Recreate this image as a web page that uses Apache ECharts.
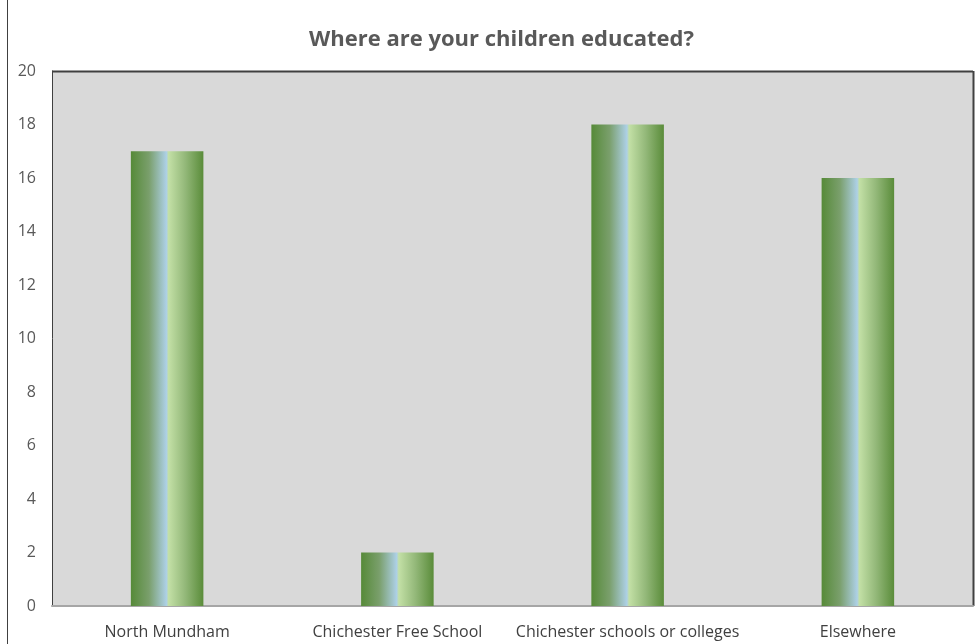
<!DOCTYPE html>
<html>
<head>
<meta charset="utf-8">
<script src="https://cdn.jsdelivr.net/npm/echarts@6/dist/echarts.min.js"></script>
<style>
  html, body { margin: 0; padding: 0; background: #ffffff; }
  #chart { width: 976px; height: 644px; }
</style>
</head>
<body>
<div id="chart"></div>
<script>
// Survey responses: where respondents' children go to school
const categories = ['North Mundham', 'Chichester Free School', 'Chichester schools or colleges', 'Elsewhere'];
const responses = [17, 2, 18, 16];
const yTicks = [0, 2, 4, 6, 8, 10, 12, 14, 16, 18, 20];

const PLOT = { left: 52, top: 71, right: 3, bottom: 38 };
const FONT = 'Open Sans, Liberation Sans, sans-serif';

// Horizontal "cylinder" shading for each bar
const barFill = new echarts.graphic.LinearGradient(0, 0, 1, 0, [
  { offset: 0, color: '#568a38' },
  { offset: 0.25, color: '#7a9f6c' },
  { offset: 0.49, color: '#add0e6' },
  { offset: 0.52, color: '#c3e0a6' },
  { offset: 0.75, color: '#93b879' },
  { offset: 1, color: '#5a8c3a' }
]);

const chart = echarts.init(document.getElementById('chart'));
chart.setOption({
  animation: false,
  title: {
    text: 'Where are your children educated?',
    left: 304,
    top: 24,
    textStyle: { fontFamily: FONT, fontSize: 22, fontWeight: 'bold', color: '#595959' }
  },
  grid: {
    left: PLOT.left, top: PLOT.top, right: PLOT.right, bottom: PLOT.bottom,
    show: true, backgroundColor: '#d9d9d9', borderColor: '#404040', borderWidth: 0
  },
  xAxis: {
    type: 'category',
    data: categories,
    axisLine: { show: true, lineStyle: { color: '#a6a6a6', width: 2 } },
    axisTick: { show: false },
    axisLabel: { color: '#404040', fontSize: 16, fontFamily: FONT, margin: 18, interval: 0 }
  },
  yAxis: {
    type: 'value',
    min: yTicks[0],
    max: yTicks[yTicks.length - 1],
    interval: 2,
    axisLine: { show: true, lineStyle: { color: '#404040', width: 1 } },
    axisTick: { show: false },
    splitLine: { show: false },
    axisLabel: { color: '#595959', fontSize: 16, fontFamily: FONT, margin: 16 }
  },
  series: [{
    type: 'bar',
    data: responses,
    barWidth: '31.5%',
    itemStyle: { color: barFill }
  }],
  graphic: [
    // outer chart frame edge on the left
    { type: 'line', shape: { x1: 7.5, y1: 0, x2: 7.5, y2: 644 }, style: { stroke: '#404040', lineWidth: 1 } },
    // plot frame: top and right edges
    { type: 'line', shape: { x1: 52, y1: 71.5, x2: 973, y2: 71.5 }, style: { stroke: '#404040', lineWidth: 2 } },
    { type: 'line', shape: { x1: 973.5, y1: 71, x2: 973.5, y2: 606 }, style: { stroke: '#404040', lineWidth: 2 } }
  ]
});
</script>
</body>
</html>
